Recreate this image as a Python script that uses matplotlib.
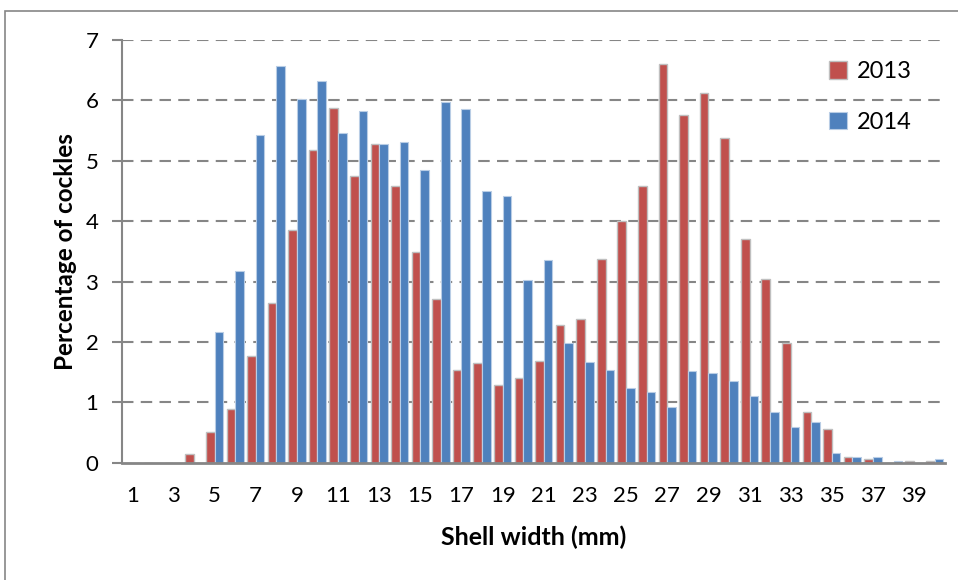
import numpy as np
import matplotlib.pyplot as plt
from matplotlib.patches import Rectangle

plt.rcParams['font.family'] = ['Lato', 'DejaVu Sans']

# shell width classes (mm) and percentage of cockles per class
widths = np.arange(1, 41)
pct_2013 = [0, 0, 0, 0.15, 0.51, 0.89, 1.76, 2.64, 3.86, 5.18,
            5.87, 4.74, 5.28, 4.59, 3.49, 2.71, 1.54, 1.65, 1.28, 1.40,
            1.69, 2.28, 2.38, 3.38, 4.00, 4.59, 6.60, 5.76, 6.13, 5.37,
            3.71, 3.04, 1.98, 0.84, 0.55, 0.10, 0.06, 0, 0.03, 0.03]
pct_2014 = [0, 0, 0, 0, 2.16, 3.18, 5.43, 6.57, 6.02, 6.32,
            5.46, 5.83, 5.27, 5.31, 4.84, 5.98, 5.86, 4.50, 4.41, 3.02,
            3.36, 1.98, 1.67, 1.54, 1.23, 1.17, 0.93, 1.52, 1.48, 1.36,
            1.11, 0.84, 0.59, 0.68, 0.16, 0.09, 0.10, 0.02, 0, 0.06]

red = '#C0504D'
blue = '#4F81BD'
grey = '#868686'

fig = plt.figure(figsize=(9.58, 5.8), dpi=100)
fig.patches.append(Rectangle((5 / 958, -0.05), 1.2, (580 - 11) / 580 + 0.05,
                             transform=fig.transFigure, fill=False,
                             edgecolor=grey, linewidth=1.2))

ax = fig.add_axes([122 / 958, 1 - 462.7 / 580, 823 / 958, 422.7 / 580])

w = 0.42
ax.bar(widths - w / 2, pct_2013, width=w, color=red, edgecolor='#BFBFBF',
       linewidth=1.0, label='2013', zorder=3)
ax.bar(widths + w / 2, pct_2014, width=w, color=blue, edgecolor='#B9CDE5',
       linewidth=0.8, label='2014', zorder=3)

ax.set_xlim(0.5, 40.5)
ax.set_ylim(0, 7)
ax.set_yticks(range(0, 8))
ax.set_xticks(widths[::2])
ax.tick_params(axis='y', length=7, width=1.5, color=grey, labelsize=16, pad=10)
ax.tick_params(axis='x', length=0, labelsize=16, pad=17)

for y in range(1, 8):
    ax.axhline(y, color=grey, linewidth=1.5, dashes=(5.5, 3.5), zorder=1)

for s in ['top', 'right']:
    ax.spines[s].set_visible(False)
ax.spines['left'].set_color(grey)
ax.spines['left'].set_linewidth(1.5)
ax.spines['bottom'].set_color(grey)
ax.spines['bottom'].set_linewidth(2)
ax.spines['bottom'].set_zorder(4)

ax.set_xlabel('Shell width (mm)', fontsize=18, fontweight='bold', labelpad=14)
ax.set_ylabel('Percentage of cockles', fontsize=17.5, fontweight='bold', labelpad=6)

leg = ax.legend(loc='upper right', bbox_to_anchor=(0.985, 1.0), frameon=False,
                fontsize=17, handlelength=0.75, handleheight=0.75,
                handletextpad=0.4, labelspacing=1.25)

fig.savefig('out.png', dpi=100)
